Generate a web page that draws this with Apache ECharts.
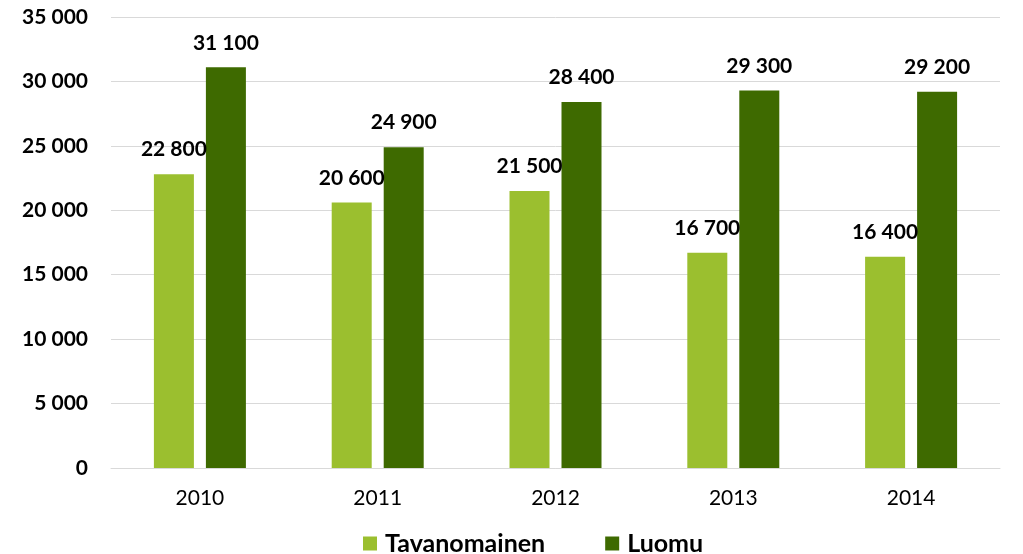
<!DOCTYPE html>
<html><head><meta charset="utf-8">
<script src="https://cdn.jsdelivr.net/npm/echarts@6/dist/echarts.min.js"></script>
<style>html,body{margin:0;padding:0;background:#fff}#c{width:1023px;height:554px}</style>
</head><body><div id="c"></div>
<script>
const categories = ['2010','2011','2012','2013','2014'];
const tavanomainen = [22800, 20600, 21500, 16700, 16400];
const luomu = [31100, 24900, 28400, 29300, 29200];
const seriesNames = ['Tavanomainen','Luomu'];
const fmt = v => String(v).replace(/\B(?=(\d{3})+(?!\d))/g, ' ');
const FONT = 'Lato, "Open Sans", sans-serif';
const chart = echarts.init(document.getElementById('c'));
const lbl = {show:true, position:'top', distance:14, formatter:p=>fmt(p.value), fontFamily:FONT, fontWeight:'bold', fontSize:21, color:'#000'};
chart.setOption({
  animation:false,
  textStyle:{fontFamily:FONT},
  grid:{left:111, right:23, top:17, bottom:86},
  legend:{left:358, top:526, itemWidth:14, itemHeight:14, itemGap:60, icon:'rect',
    textStyle:{fontFamily:FONT, fontWeight:'bold', fontSize:25, color:'#000', padding:[0,0,0,3]},
    data:seriesNames},
  xAxis:{type:'category', data:categories,
    axisLine:{lineStyle:{color:'#D9D9D9', width:1}}, axisTick:{show:false},
    axisLabel:{fontFamily:FONT, fontSize:21, color:'#000', margin:20}},
  yAxis:{type:'value', min:0, max:35000, interval:5000,
    axisLine:{show:false}, axisTick:{show:false},
    splitLine:{lineStyle:{color:'#D9D9D9', width:1}},
    axisLabel:{formatter:v=>fmt(v), fontFamily:FONT, fontWeight:'bold', fontSize:21, color:'#000', margin:23}},
  series:[
    {name:seriesNames[0], type:'bar', data:tavanomainen, barWidth:40, barGap:'30%', itemStyle:{color:'#9BBF2F'}, label:lbl},
    {name:seriesNames[1], type:'bar', data:luomu, barWidth:40, itemStyle:{color:'#3E6A00'}, label:lbl}
  ]
});
</script></body></html>
